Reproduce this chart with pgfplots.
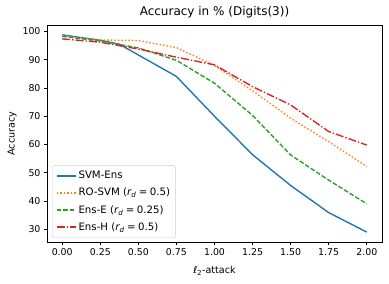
\documentclass[border=0pt]{standalone}
\usepackage{pgfplots}
\pgfplotsset{compat=1.18}
\usepackage{fontspec}
\setmainfont{DejaVu Sans}
\definecolor{tabblue}{HTML}{1F77B4}
\definecolor{taborange}{HTML}{FF7F0E}
\definecolor{tabgreen}{HTML}{2CA02C}
\definecolor{tabred}{HTML}{D62728}
\newcommand{\rd}{{\itshape r}\textsubscript{\itshape d}\hspace{0.25em}=\hspace{0.25em}}
\begin{document}
\begin{tikzpicture}
\begin{axis}[
  at={(0,0)}, anchor=south west,
  scale only axis, width=335pt, height=217pt,
  xmin=-0.1, xmax=2.1, ymin=25.5, ymax=102.3,
  xtick={0,0.25,0.5,0.75,1,1.25,1.5,1.75,2},
  ytick={30,40,50,60,70,80,90,100},
  xticklabel style={/pgf/number format/fixed, /pgf/number format/fixed zerofill, /pgf/number format/precision=2},
  /pgf/number format/assume math mode=true,
  tick label style={font=\fontsize{9.4}{11}\selectfont},
  tick align=outside, major tick length=3pt,
  xtick pos=left, ytick pos=left,
  axis line style={line width=0.65pt},
  every tick/.style={black, line width=0.65pt},
  title={Accuracy in \% (Digits(3))},
  title style={font=\fontsize{12}{14}\selectfont, at={(0.5,1)}, anchor=south, yshift=-2.5pt},
  xlabel={ℓ\textsubscript{2}-attack},
  ylabel={Accuracy},
  label style={font=\fontsize{9.6}{11}\selectfont},
  xlabel style={at={(axis description cs:0.5,0)}, anchor=center, yshift=-29pt},
  ylabel style={at={(axis description cs:-0.104,0.5)}, anchor=center},
  legend style={at={(0.015,0.02)}, anchor=south west, font=\fontsize{10.2}{11.5}\selectfont,
    draw=black!20, rounded corners=2pt, fill=white, fill opacity=0.8, text opacity=1,
    row sep=4pt, inner sep=3.5pt},
  legend cell align=left,
  legend image code/.code={\draw[line width=1.8pt,#1] (0pt,0pt) -- (19pt,0pt);},
  every axis plot/.append style={line width=1.4pt},
]
\addplot[tabblue, solid] coordinates {(0,98.8) (0.25,96.9) (0.375,95.5) (0.75,84.1) (1.0,70.0) (1.25,56.4) (1.5,45.5) (1.75,35.9) (2.0,29.0)};
\addlegendentry{SVM-Ens}
\addplot[taborange, dash pattern=on 1.4pt off 2.1pt] coordinates {(0,98.5) (0.25,97.0) (0.5,96.8) (0.75,94.3) (1.0,88.0) (1.25,79.0) (1.5,69.3) (1.75,61.0) (2.0,52.2)};
\addlegendentry{RO-SVM (\rd 0.5)}
\addplot[tabgreen, dash pattern=on 4.6pt off 2pt] coordinates {(0,98.3) (0.25,96.6) (0.5,94.2) (0.75,89.8) (1.0,81.7) (1.25,70.3) (1.5,56.3) (1.75,47.4) (2.0,39.0)};
\addlegendentry{Ens-E (\rd 0.25)}
\addplot[tabred, dash pattern=on 8pt off 2pt on 1.4pt off 2pt] coordinates {(0,97.4) (0.25,96.2) (0.5,93.8) (0.75,90.9) (1.0,88.2) (1.25,80.5) (1.5,74.0) (1.75,64.6) (2.0,59.8)};
\addlegendentry{Ens-H (\rd 0.5)}
\end{axis}
\pgfresetboundingbox
\path (-47pt,-42pt) rectangle (342pt,242pt);
\end{tikzpicture}
\end{document}
